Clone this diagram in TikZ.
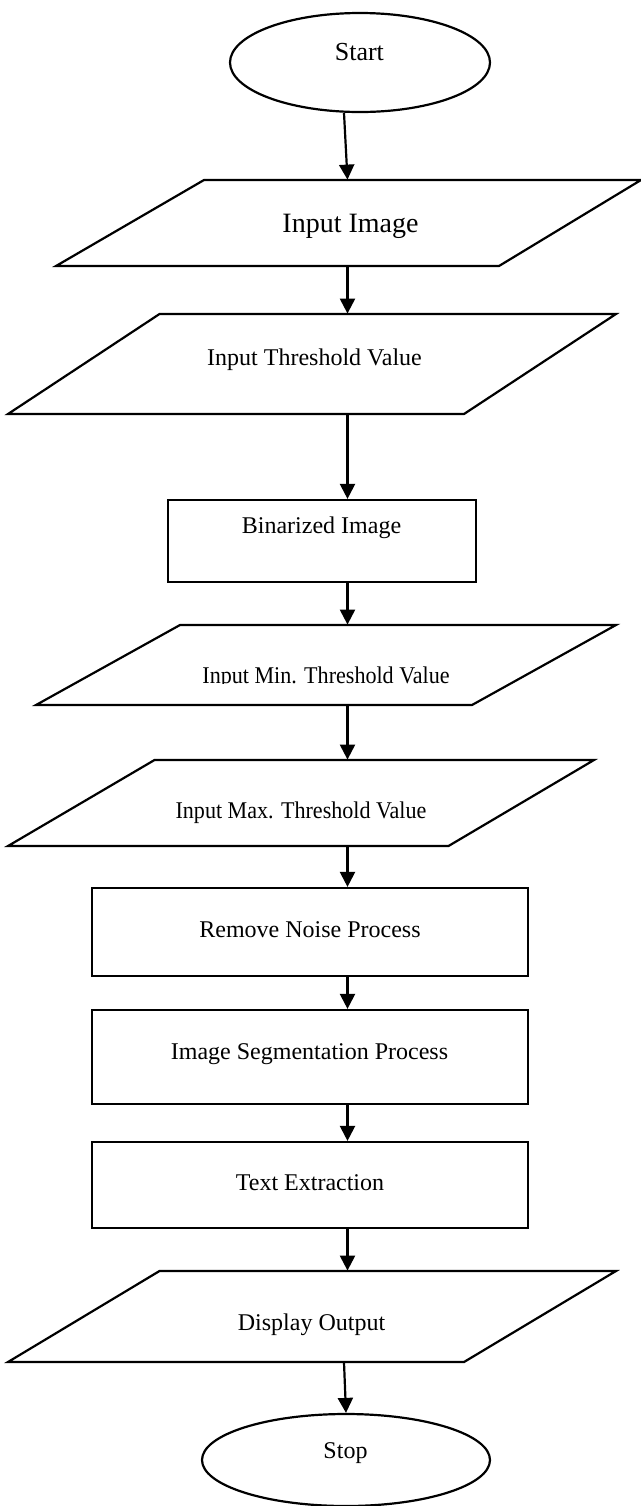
\documentclass[tikz,border=0pt]{standalone}
\usepackage{fontspec}
\setmainfont{Liberation Serif}
\usepackage{graphicx}
\usetikzlibrary{arrows.meta,fit,shapes.geometric}

% Input/output parallelogram: name, y top, y bottom, top-left x, top-right x, bottom-left x, bottom-right x
\newcommand{\ioshape}[7]{%
  \draw[outline] (#6,#3) -- (#7,#3) -- (#5,#2) -- (#4,#2) -- cycle;
  \node[inner sep=0pt, fit={(#4,#2) (#5,#2) (#6,#3) (#7,#3)}] (#1) {};
}

\begin{document}
\begin{tikzpicture}[x=0.5pt,y=-0.5pt,
  outline/.style={draw=black, line width=1.1pt, line join=miter},
  procbox/.style={outline, inner sep=0pt},
  terminal/.style={outline, ellipse, inner sep=0pt},
  txt/.style={inner sep=0pt, anchor=base, font=\fontsize{12}{14}\selectfont},
  flow/.style={line width=1.1pt, -{Triangle[length=7.5pt,width=7.5pt]}},
]
\useasboundingbox (0,0) rectangle (641,1506);

% terminals
\node[terminal, minimum width=130pt, minimum height=49.5pt] (start) at (360,62.5) {};
\node[txt, font=\fontsize{13}{15}\selectfont] (start-t) at (359.4,60) {Start};

\node[terminal, minimum width=144pt, minimum height=46pt] (stop) at (346,1460) {};
\node[txt] (stop-t) at (345.5,1458.3) {Stop};

% input / output steps
\ioshape{img}{180}{266}{204}{641}{56}{499}
\node[txt, font=\fontsize{14}{16}\selectfont] (img-t) at (350.5,232) {Input Image};

\ioshape{thr}{314}{414}{159.5}{616}{8}{464}
\node[txt] (thr-t) at (314.5,365) {Input Threshold Value};

\ioshape{min}{625}{705}{180}{616}{36}{472}
\begin{scope}
  \clip (150,600) rectangle (500,683.5);
  \node[txt] (min-t) at (326,683) {\scalebox{0.92}[1]{Input Min. Threshold Value}};
\end{scope}

\ioshape{max}{760}{846}{154.5}{594}{8}{448.5}
\node[txt] (max-t) at (301,818.3) {\scalebox{0.92}[1]{Input Max. Threshold Value}};

\ioshape{disp}{1271}{1362}{159.5}{616}{8}{464}
\node[txt] (disp-t) at (311.5,1330) {Display Output};

% process boxes
\node[procbox, fit={(168,500) (476,582)}] (bin) {};
\node[txt] (bin-t) at (321.5,533.3) {Binarized Image};

\node[procbox, fit={(92,888) (528,976)}] (noise) {};
\node[txt] (noise-t) at (310,937.3) {Remove Noise Process};

\node[procbox, fit={(92,1010) (528,1104)}] (seg) {};
\node[txt] (seg-t) at (309.5,1059) {Image Segmentation Process};

\node[procbox, fit={(92,1142) (528,1228)}] (ext) {};
\node[txt] (ext-t) at (310,1190.7) {Text Extraction};

% connectors
\coordinate (spine) at (347.5,0);
\coordinate (drop) at (344,0);
\draw[flow] (start.south -| drop) -- (img.north -| spine);
\draw[flow] (img.south -| spine) -- (thr.north -| spine);
\draw[flow] (thr.south -| spine) -- (bin.north -| spine);
\draw[flow] (bin.south -| spine) -- (min.north -| spine);
\draw[flow] (min.south -| spine) -- (max.north -| spine);
\draw[flow] (max.south -| spine) -- (noise.north -| spine);
\draw[flow] (noise.south -| spine) -- (seg.north -| spine);
\draw[flow] (seg.south -| spine) -- (ext.north -| spine);
\draw[flow] (ext.south -| spine) -- (disp.north -| spine);
\draw[flow] (disp.south -| drop) -- (stop.north);
\end{tikzpicture}
\end{document}
